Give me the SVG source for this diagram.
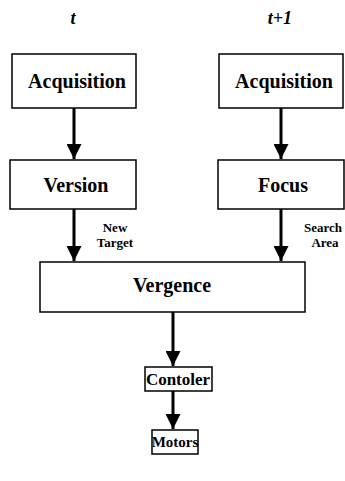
<svg xmlns="http://www.w3.org/2000/svg" width="345" height="481" viewBox="0 0 345 481">
<defs>
<marker id="ah" viewBox="0 0 10 10" refX="10" refY="5" markerWidth="5" markerHeight="5" markerUnits="strokeWidth" orient="auto">
<path d="M0,0 L10,5 L0,10 Z" fill="#000"/>
</marker>
</defs>
<style>
.box{fill:#fff;stroke:#000;stroke-width:1.5}
.lbl{font-family:"Liberation Serif","Times New Roman",Times,serif;font-weight:bold;fill:#000;text-anchor:middle}
.big{font-size:20px}
.sm{font-size:13px}
.hdr{font-family:"Liberation Serif","Times New Roman",Times,serif;font-weight:bold;font-style:italic;font-size:18px;text-anchor:middle;fill:#000}
.conn{stroke:#000;stroke-width:3;fill:none;marker-end:url(#ah)}
</style>
<rect width="345" height="481" fill="#fff"/>
<text class="hdr" x="73" y="24">t</text>
<text class="hdr" x="280" y="24">t+1</text>
<g id="connectors">
<line class="conn" x1="74" y1="108" x2="74" y2="159"/>
<line class="conn" x1="281" y1="108" x2="281" y2="159"/>
<line class="conn" x1="74" y1="209" x2="74" y2="261"/>
<line class="conn" x1="281" y1="209" x2="281" y2="261"/>
<line class="conn" x1="173" y1="312" x2="173" y2="366"/>
<line class="conn" x1="173" y1="391" x2="173" y2="429"/>
</g>
<g id="acq-t"><rect class="box" x="12" y="54" width="124" height="54"/><text class="lbl big" x="77" y="88">Acquisition</text></g>
<g id="acq-t1"><rect class="box" x="219" y="54" width="124" height="54"/><text class="lbl big" x="284" y="88">Acquisition</text></g>
<g id="version"><rect class="box" x="10" y="160" width="126" height="49"/><text class="lbl big" x="76" y="192">Version</text></g>
<g id="focus"><rect class="box" x="218" y="160" width="126" height="49"/><text class="lbl big" x="283" y="192">Focus</text></g>
<g id="new-target"><text class="lbl sm" x="115" y="232">New</text><text class="lbl sm" x="115" y="247">Target</text></g>
<g id="search-area"><text class="lbl sm" x="323" y="232">Search</text><text class="lbl sm" x="325" y="247">Area</text></g>
<g id="vergence"><rect class="box" x="40" y="262" width="265" height="50"/><text class="lbl big" x="172" y="292">Vergence</text></g>
<g id="contoler"><rect class="box" x="145" y="367" width="67" height="24"/><text class="lbl" style="font-size:17px" x="178" y="385">Contoler</text></g>
<g id="motors"><rect class="box" x="152" y="430" width="46" height="24"/><text class="lbl" style="font-size:15px" x="175" y="447">Motors</text></g>
</svg>
